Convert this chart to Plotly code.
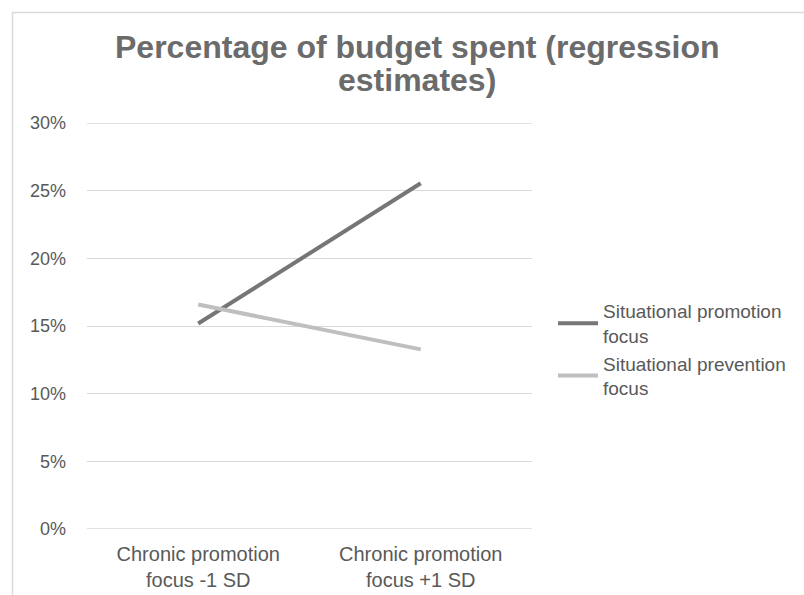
import plotly.graph_objects as go

categories = ["Chronic promotion<br>focus -1 SD", "Chronic promotion<br>focus +1 SD"]
promotion = [0.1518, 0.2555]
prevention = [0.1659, 0.1327]
series_names = ["Situational promotion<br>focus", "Situational prevention<br>focus"]
tick_vals = [0, 0.05, 0.10, 0.15, 0.20, 0.25, 0.30]
tick_text = ["0%", "5%", "10%", "15%", "20%", "25%", "30%"]
title_lines = ["Percentage of budget spent (regression", "estimates)"]

W, H = 804, 595
L, R, T, B = 87, 532, 123, 529

fig = go.Figure()
fig.add_trace(go.Scatter(x=categories, y=promotion, mode="lines", name=series_names[0],
                         line=dict(color="#767676", width=4)))
fig.add_trace(go.Scatter(x=categories, y=prevention, mode="lines", name=series_names[1],
                         line=dict(color="#BFBFBF", width=4)))

def px_x(p):
    return (p - L) / (R - L)

def px_y(p):
    return (B - p) / (B - T)

annotations = []
for line, yc in zip(title_lines, [47, 80]):
    annotations.append(dict(text="<b>" + line + "</b>", xref="paper", yref="paper",
                            x=px_x(417), y=px_y(yc), xanchor="center", yanchor="middle",
                            showarrow=False, font=dict(size=32, color="#6B6B6B")))

shapes = [
    dict(type="line", xref="paper", yref="paper", x0=px_x(12.5), x1=px_x(12.5),
         y0=px_y(12), y1=px_y(600), line=dict(color="#D9D9D9", width=1.5)),
    dict(type="line", xref="paper", yref="paper", x0=px_x(12), x1=px_x(810),
         y0=px_y(12.5), y1=px_y(12.5), line=dict(color="#D9D9D9", width=1.5)),
]
for v in (tick_vals[0], tick_vals[-1]):
    shapes.append(dict(type="line", xref="paper", yref="y", x0=0, x1=1, y0=v, y1=v,
                       line=dict(color="#D9D9D9", width=1.3), layer="below"))

fig.update_layout(
    width=W, height=H,
    margin=dict(l=L, r=W - R, t=T, b=H - B, pad=0, autoexpand=False),
    paper_bgcolor="white", plot_bgcolor="white",
    font=dict(family="Liberation Sans, Arial, sans-serif", color="#595959", size=18),
    showlegend=True,
    legend=dict(x=px_x(553), y=px_y(292), xanchor="left", yanchor="top",
                font=dict(size=19, color="#595959"), bgcolor="rgba(0,0,0,0)",
                tracegroupgap=18, itemwidth=40),
    xaxis=dict(type="category", range=[-0.5, 1.5], showgrid=False, showline=False, ticks="",
               tickfont=dict(size=20, color="#595959"), zeroline=False,
               ticklabelstandoff=11, automargin=False),
    yaxis=dict(range=[0, 0.30], tickvals=tick_vals, ticktext=tick_text,
               showgrid=True, gridcolor="#D9D9D9", gridwidth=1.3, zeroline=False,
               showline=False, ticks="", ticklabelstandoff=20, automargin=False,
               tickfont=dict(size=18, color="#595959")),
    annotations=annotations,
    shapes=shapes,
)

fig.write_html("out.html")
